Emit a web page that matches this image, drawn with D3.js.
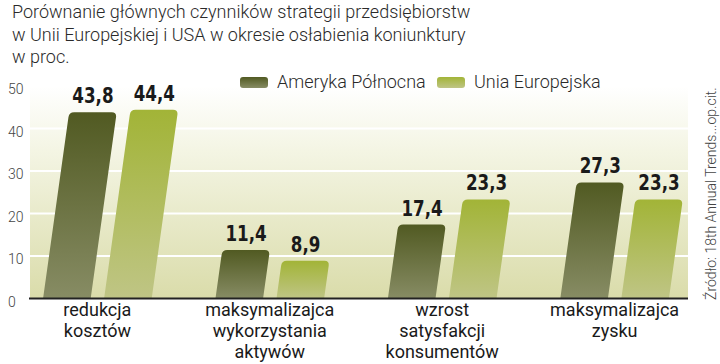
<!DOCTYPE html>
<html>
<head>
<meta charset="utf-8">
<script src="https://cdn.jsdelivr.net/npm/d3@7"></script>
<style>
  html, body { margin: 0; padding: 0; background: #fff; }
  svg { display: block; }
</style>
</head>
<body>
<div id="chart"></div>
<script>
const categories = [
  ['redukcja', 'kosztów'],
  ['maksymalizajca', 'wykorzystania', 'aktywów'],
  ['wzrost', 'satysfakcji', 'konsumentów'],
  ['maksymalizajca', 'zysku']
];
const seriesNames = ['Ameryka Północna', 'Unia Europejska'];
const northAmerica = [43.8, 11.4, 17.4, 27.3];
const europeanUnion = [44.4, 8.9, 23.3, 23.3];
const yTicks = [0, 10, 20, 30, 40, 50];
const titleLines = [
  'Porównanie głównych czynników strategii przedsiębiorstw',
  'w Unii Europejskiej i USA w okresie osłabienia koniunktury',
  'w proc.'
];
const sourceText = 'Źródło: 18th Annual Trends...op.cit.';

const W = 720, H = 364;
const svg = d3.select('#chart').append('svg')
  .attr('width', W)
  .attr('height', H);

const defs = svg.append('defs');
const grad = (id, stops) => {
  const g = defs.append('linearGradient').attr('id', id)
    .attr('x1', 0).attr('y1', 0).attr('x2', 0).attr('y2', 1);
  stops.forEach(s => g.append('stop').attr('offset', s[0]).attr('stop-color', s[1]));
};
grad('bg', [[0, '#ffffff'], [0.3, '#f4f5e4'], [1, '#dadcaa']]);
grad('g0', [[0, '#515a22'], [1, '#878c64']]);
grad('g1', [[0, '#a2b437'], [1, '#bfc585']]);
const fills = ['url(#g0)', 'url(#g1)'];

const plotL = 30, plotR = 688, plotT = 86, plotB = 298.5;

const y = d3.scaleLinear().domain([0, 50]).range([plotB, plotT]);
const x = d3.scaleBand().domain(d3.range(categories.length))
  .range([31, 681]).paddingInner(0.37).paddingOuter(0.07);
const xs = d3.scaleBand().domain(d3.range(seriesNames.length))
  .range([0, x.bandwidth()]).paddingInner(0.22);

// background
svg.append('rect')
  .attr('x', plotL).attr('y', plotT)
  .attr('width', plotR - plotL).attr('height', plotB - plotT)
  .attr('fill', 'url(#bg)');

// grid
svg.append('g').selectAll('line')
  .data(yTicks.filter(d => d > 0))
  .join('line')
  .attr('x1', plotL).attr('x2', plotR)
  .attr('y1', d => y(d)).attr('y2', d => y(d))
  .attr('stroke', '#fff').attr('stroke-width', 2);

// y labels
svg.append('g').selectAll('text')
  .data(yTicks)
  .join('text')
  .attr('x', 8)
  .attr('y', d => y(d) + 8)
  .attr('font-family', 'Roboto, sans-serif')
  .attr('font-weight', 300)
  .attr('font-size', 14)
  .attr('fill', '#444')
  .text(d => d);

// bars
const slant = 0.14, r = 5;
const barPath = (x0, yTop, w) => {
  const h = plotB - yTop;
  const s = h * slant;
  const rr = Math.min(r, h / 2);
  return `M${x0},${plotB}` +
    `L${x0 + s - rr * slant},${yTop + rr}` +
    `Q${x0 + s},${yTop} ${x0 + s + rr},${yTop}` +
    `L${x0 + s + w - rr},${yTop}` +
    `Q${x0 + s + w},${yTop} ${x0 + s + w - rr * slant},${yTop + rr}` +
    `L${x0 + w},${plotB}Z`;
};

const rows = [];
categories.forEach((c, i) => {
  [northAmerica, europeanUnion].forEach((vals, j) => rows.push({ i, j, v: vals[i] }));
});

const bars = svg.append('g');
bars.selectAll('path')
  .data(rows)
  .join('path')
  .attr('d', d => barPath(x(d.i) + xs(d.j), y(d.v), xs.bandwidth()))
  .attr('fill', d => fills[d.j]);

bars.selectAll('text')
  .data(rows)
  .join('text')
  .attr('x', d => x(d.i) + xs(d.j) + (plotB - y(d.v)) * slant + xs.bandwidth() / 2)
  .attr('y', d => y(d.v) - 9)
  .attr('text-anchor', 'middle')
  .attr('font-family', '"DejaVu Sans", sans-serif')
  .attr('font-weight', 700)
  .attr('font-size', 22)
  .attr('fill', '#1a1a1a')
  .text(d => d3.format('.1f')(d.v).replace('.', ','))
  .each(function () {
    // squeeze to a condensed look
    const len = this.getComputedTextLength();
    d3.select(this).attr('textLength', len * 0.76).attr('lengthAdjust', 'spacingAndGlyphs');
  });

// baseline
svg.append('line')
  .attr('x1', plotL - 1).attr('x2', plotR)
  .attr('y1', plotB).attr('y2', plotB)
  .attr('stroke', '#222').attr('stroke-width', 2);

// category labels
const cl = svg.append('g').selectAll('text')
  .data(categories)
  .join('text')
  .attr('x', (d, i) => x(i) + x.bandwidth() / 2)
  .attr('y', 316)
  .attr('text-anchor', 'middle')
  .attr('font-family', 'Roboto, sans-serif')
  .attr('font-size', 18)
  .attr('fill', '#1a1a1a');
cl.selectAll('tspan')
  .data(d => d)
  .join('tspan')
  .attr('x', function () { return d3.select(this.parentNode).attr('x'); })
  .attr('dy', (d, k) => k === 0 ? 0 : 21)
  .text(d => d);

// title
svg.append('g').selectAll('text')
  .data(titleLines)
  .join('text')
  .attr('x', 12)
  .attr('y', (d, i) => [18, 41, 63][i])
  .attr('font-family', 'Roboto, sans-serif')
  .attr('font-weight', 300)
  .attr('font-size', 18)
  .attr('fill', '#2a2a2a')
  .text(d => d);

// legend
const legX = [240, 437];
const leg = svg.append('g').selectAll('g')
  .data(seriesNames)
  .join('g')
  .attr('transform', (d, i) => `translate(${legX[i]},77)`);
leg.append('rect')
  .attr('width', 28).attr('height', 11).attr('rx', 3)
  .attr('fill', (d, i) => fills[i]);
leg.append('text')
  .attr('x', 37).attr('y', 11)
  .attr('font-family', 'Roboto, sans-serif')
  .attr('font-weight', 300)
  .attr('font-size', 18)
  .attr('fill', '#2a2a2a')
  .text(d => d);

// source
svg.append('text')
  .attr('transform', 'translate(716,300) rotate(-90)')
  .attr('font-family', 'Roboto, sans-serif')
  .attr('font-weight', 300)
  .attr('font-size', 14)
  .attr('fill', '#444')
  .text(sourceText);
</script>
</body>
</html>
